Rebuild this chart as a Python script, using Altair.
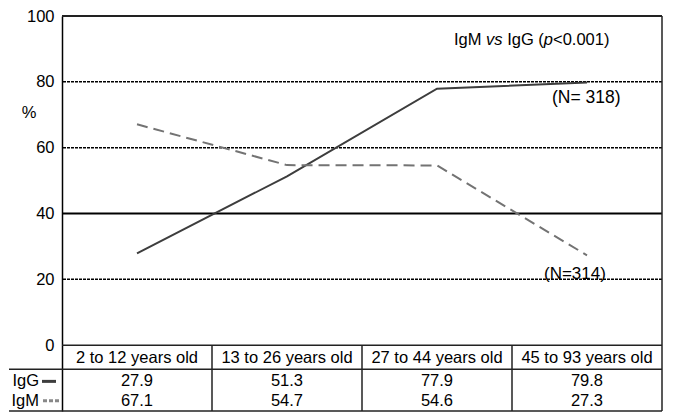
import altair as alt
import pandas as pd

# ---------------- data ----------------
categories = ["2 to 12 years old", "13 to 26 years old", "27 to 44 years old", "45 to 93 years old"]
igg_values = [27.9, 51.3, 77.9, 79.8]
igm_values = [67.1, 54.7, 54.6, 27.3]
row_names = ["IgG", "IgM"]
y_ticks = [0, 20, 40, 60, 80, 100]
dotted_grid = [20, 60, 80]
solid_grid = [40]
n_igg = "(N= 318)"
n_igm = "(N=314)"

# ---------------- layout constants ----------------
W, H = 600, 395
FONT = "Liberation Sans"
LEFT = -53
Y_MIN, Y_MAX = -20, 100
CAT_Y, SEP_Y, IGG_Y, IGM_Y = -3.9, -7.3, -11.0, -16.9
C_IGG = "#3d3d3d"
C_IGM = "#737373"

yscale = alt.Scale(domain=[Y_MIN, Y_MAX], nice=False, zero=False)
xscale = alt.Scale(domain=[0, len(categories)], nice=False, zero=False)
yaxis = alt.Axis(values=y_ticks, title=None, ticks=False, grid=False,
                 labelFontSize=16.5, labelFont=FONT, labelColor="black",
                 labelPadding=8, domainColor="black", domainWidth=1.5)


def Y(f="y"):
    return alt.Y(f"{f}:Q", scale=yscale, axis=yaxis)


def X(f="x"):
    return alt.X(f"{f}:Q", scale=xscale, axis=None)


pos = [i + 0.5 for i in range(len(categories))]

# grid lines
grid_dot = alt.Chart(pd.DataFrame({"y": dotted_grid})).mark_rule(
    color="black", strokeWidth=1.5, strokeDash=[3, 1]).encode(y=Y())
grid_solid = alt.Chart(pd.DataFrame({"y": solid_grid})).mark_rule(
    color="black", strokeWidth=2).encode(y=Y())
top_frame = alt.Chart(pd.DataFrame({"y": [Y_MAX]})).mark_rule(
    color="#222", strokeWidth=2).encode(y=Y())
zero_line = alt.Chart(pd.DataFrame({"y": [0]})).mark_rule(
    color="#222", strokeWidth=1.5).encode(y=Y())

# table lines
sep = alt.Chart(pd.DataFrame({"y": [SEP_Y, Y_MIN]})).mark_rule(
    color="#222", strokeWidth=1.5).encode(x=alt.value(LEFT), x2=alt.value(W), y=Y())
vdiv = alt.Chart(pd.DataFrame({"x": list(range(1, len(categories))),
                               "y": [0] * (len(categories) - 1),
                               "y2": [Y_MIN] * (len(categories) - 1)})).mark_rule(
    color="#222", strokeWidth=1.5).encode(x=X(), y=Y(), y2="y2:Q")
rframe = alt.Chart(pd.DataFrame({"x": [len(categories)], "y": [Y_MAX], "y2": [Y_MIN]})).mark_rule(
    color="#222", strokeWidth=1.5).encode(x=X(), y=Y(), y2="y2:Q")

# series lines
df_igg = pd.DataFrame({"x": pos, "y": igg_values})
df_igm = pd.DataFrame({"x": pos, "y": igm_values})
line_igg = alt.Chart(df_igg).mark_line(color=C_IGG, strokeWidth=2).encode(x=X(), y=Y())
line_igm = alt.Chart(df_igm).mark_line(color=C_IGM, strokeWidth=2, strokeDash=[11, 6]).encode(x=X(), y=Y())

# table text
cat_text = alt.Chart(pd.DataFrame({"x": pos, "y": [CAT_Y] * len(pos), "label": categories})).mark_text(
    font=FONT, fontSize=16.5, color="black", align="center", baseline="middle").encode(
    x=X(), y=Y(), text="label:N")
val_df = pd.DataFrame({
    "x": pos + pos,
    "y": [IGG_Y] * len(pos) + [IGM_Y] * len(pos),
    "label": [f"{v:.1f}" for v in igg_values] + [f"{v:.1f}" for v in igm_values],
})
val_text = alt.Chart(val_df).mark_text(
    font=FONT, fontSize=16.5, color="black", align="center", baseline="middle").encode(
    x=X(), y=Y(), text="label:N")
row_text = alt.Chart(pd.DataFrame({"y": [IGG_Y, IGM_Y], "label": row_names})).mark_text(
    font=FONT, fontSize=16.5, color="black", align="right", baseline="middle").encode(
    x=alt.value(-23), y=Y(), text="label:N")
leg_igg = alt.Chart(pd.DataFrame({"y": [IGG_Y]})).mark_rule(
    color=C_IGG, strokeWidth=3).encode(x=alt.value(-20), x2=alt.value(-6), y=Y())
leg_igm = alt.Chart(pd.DataFrame({"y": [IGM_Y]})).mark_rule(
    color="#888", strokeWidth=3, strokeDash=[4, 2]).encode(x=alt.value(-19), x2=alt.value(-3), y=Y())

# y title
pct = alt.Chart(pd.DataFrame({"y": [70.5], "label": ["%"]})).mark_text(
    font=FONT, fontSize=16.5, color="black", align="center", baseline="middle").encode(
    x=alt.value(-33), y=Y(), text="label:N")

# annotation "IgM vs IgG (p<0.001)" with italic parts
EM = {"I": .278, "g": .556, "M": .833, " ": .278, "v": .5, "s": .5, "G": .778,
      "(": .333, "p": .556, "<": .584, "0": .556, ".": .278, "1": .556, ")": .333}
AFS = 16.5


def wid(s):
    return sum(EM.get(c, .556) for c in s) * AFS


pieces = [("IgM", "normal", 0.0), ("vs", "italic", wid(" ")), ("IgG (", "normal", wid(" ")),
          ("p", "italic", 0.0), ("<0.001)", "normal", 0.0)]
ann_layers = []
xcur = 392.0
for txt, style, pre in pieces:
    xcur += pre
    ann_layers.append(
        alt.Chart(pd.DataFrame({"y": [92.8], "label": [txt]})).mark_text(
            font=FONT, fontSize=AFS, fontStyle=style, color="black", align="left", baseline="middle").encode(
            x=alt.value(xcur), y=Y(), text="label:N"))
    xcur += wid(txt)

n1 = alt.Chart(pd.DataFrame({"y": [75.1], "label": [n_igg]})).mark_text(
    font=FONT, fontSize=17.5, color="black", align="left", baseline="middle").encode(
    x=alt.value(490), y=Y(), text="label:N")
n2 = alt.Chart(pd.DataFrame({"y": [21.7], "label": [n_igm]})).mark_text(
    font=FONT, fontSize=17, color="black", align="left", baseline="middle").encode(
    x=alt.value(482), y=Y(), text="label:N")

chart = alt.layer(
    grid_dot, grid_solid, top_frame, zero_line, sep, vdiv, rframe,
    line_igg, line_igm, cat_text, val_text, row_text, leg_igg, leg_igm, pct,
    *ann_layers, n1, n2,
).properties(width=W, height=H, padding=0, background="white").configure_view(strokeWidth=0)

chart.save("out.html", embed_options={"renderer": "svg", "actions": False})
